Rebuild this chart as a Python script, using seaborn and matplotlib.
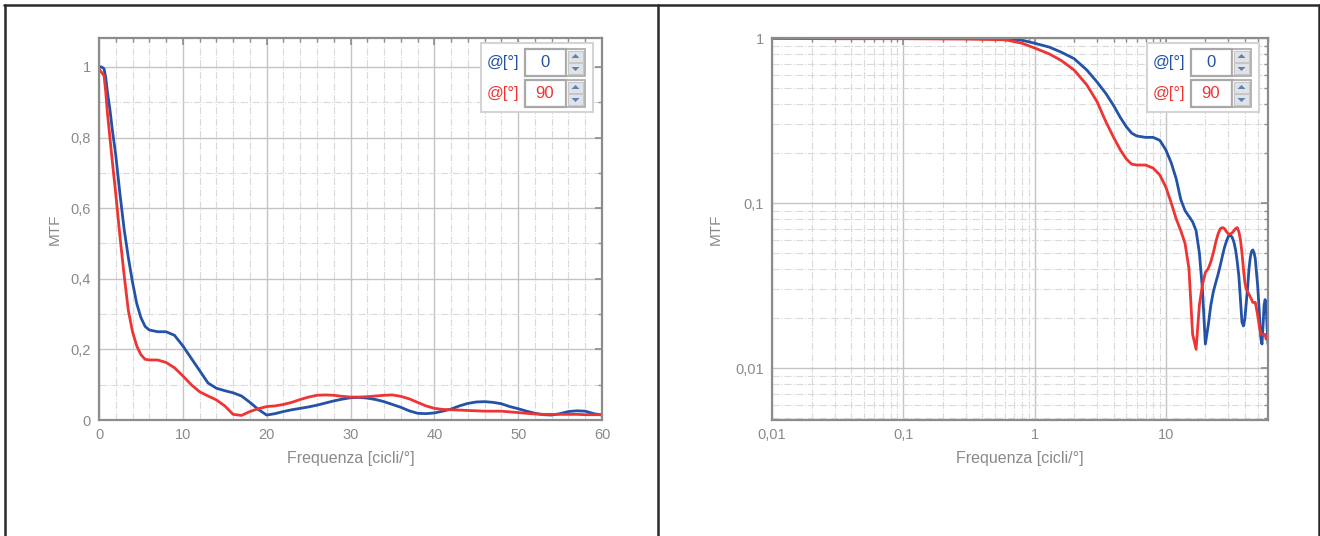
import numpy as np
import pandas as pd
import matplotlib
matplotlib.use("Agg")
import matplotlib.pyplot as plt
import seaborn as sns
from matplotlib.patches import Rectangle, Polygon
from matplotlib.lines import Line2D
from matplotlib.ticker import MultipleLocator, FuncFormatter, LogLocator, NullFormatter, FixedLocator

# ---------------- data ----------------
freq = [0.01, 0.03, 0.1, 0.3, 0.6, 0.8, 1.0, 1.3, 1.6, 2.0, 2.5, 3.0, 3.5, 4.0, 4.5,
        5.0, 5.5, 6.0, 7.0, 8.0, 9.0, 10, 11, 12, 13, 14, 15, 16, 17, 18, 19, 20,
        21, 22, 23, 24, 25, 26, 27, 28, 29, 30, 31, 32, 33, 34, 35, 36, 37, 38, 39, 40,
        41, 42, 43, 44, 45, 46, 47, 48, 49, 50, 51, 52, 53, 54, 55, 56, 57, 58, 59, 60]

mtf_0 = [1.0, 1.0, 1.0, 1.0, 0.995, 0.97, 0.93, 0.88, 0.82, 0.75, 0.64, 0.54, 0.46, 0.39, 0.33,
         0.29, 0.265, 0.255, 0.25, 0.25, 0.24, 0.21, 0.175, 0.14, 0.105, 0.09, 0.083, 0.077, 0.068, 0.05, 0.03, 0.014,
         0.018, 0.024, 0.029, 0.033, 0.037, 0.042, 0.048, 0.054, 0.059, 0.063, 0.064, 0.062, 0.058, 0.052, 0.044, 0.036, 0.026, 0.019, 0.018, 0.02,
         0.025, 0.031, 0.04, 0.047, 0.051, 0.052, 0.05, 0.046, 0.038, 0.032, 0.025, 0.019, 0.015, 0.014, 0.018, 0.024, 0.026, 0.025, 0.018, 0.014]

mtf_90 = [0.995, 0.99, 0.99, 0.985, 0.975, 0.93, 0.87, 0.80, 0.73, 0.64, 0.52, 0.41, 0.31, 0.25, 0.21,
          0.185, 0.172, 0.17, 0.17, 0.163, 0.148, 0.125, 0.10, 0.08, 0.068, 0.057, 0.04, 0.016, 0.013, 0.024, 0.032, 0.038,
          0.04, 0.044, 0.05, 0.058, 0.065, 0.07, 0.071, 0.07, 0.067, 0.065, 0.065, 0.066, 0.068, 0.07, 0.071, 0.067, 0.06, 0.05, 0.04, 0.033,
          0.03, 0.029, 0.028, 0.027, 0.026, 0.025, 0.025, 0.025, 0.023, 0.021, 0.019, 0.017, 0.016, 0.016, 0.016, 0.016, 0.016, 0.015, 0.015, 0.015]

angles = ["0", "90"]
angle_label = "@[°]"
x_label = "Frequenza [cicli/°]"
y_label = "MTF"
lin_xticks = [0, 10, 20, 30, 40, 50, 60]
lin_yticks = [0, 0.2, 0.4, 0.6, 0.8, 1]
log_xticks = [0.01, 0.1, 1, 10]
log_yticks = [0.01, 0.1, 1]

BLUE = "#2352a6"
RED = "#ef3434"
GRAY = "#8a8a8a"

df = pd.DataFrame({
    "freq": freq * 2,
    "mtf": mtf_0 + mtf_90,
    "angle": [angles[0]] * len(freq) + [angles[1]] * len(freq),
})

sns.set_style("white")
plt.rcParams["font.family"] = ["Liberation Sans", "DejaVu Sans"]

W, H = 1320, 536
fig = plt.figure(figsize=(W / 100, H / 100), dpi=100)

def fbox(x0, y0, x1, y1):
    # pixel box (top-left origin) -> figure fraction rect
    return [x0 / W, 1 - y1 / H, (x1 - x0) / W, (y1 - y0) / H]

ax1 = fig.add_axes(fbox(99, 38, 602, 420))
ax2 = fig.add_axes(fbox(772, 38, 1268, 420))

comma = FuncFormatter(lambda v, p: ("%g" % v).replace(".", ","))

for ax in (ax1, ax2):
    sns.lineplot(data=df, x="freq", y="mtf", hue="angle", palette=[BLUE, RED],
                 estimator=None, sort=False, linewidth=2.0, legend=False, ax=ax)
    ax.set_xlabel(x_label, color=GRAY, fontsize=11.5, labelpad=6)
    ax.set_ylabel(y_label, color=GRAY, fontsize=11)
    for s in ax.spines.values():
        s.set_color("#8c8c8c")
        s.set_linewidth(1.6)
        s.set_visible(True)
    ax.tick_params(which="both", direction="in", top=True, right=True,
                   colors="#8c8c8c", labelcolor=GRAY, labelsize=10.5)
    ax.tick_params(which="major", length=5, width=1.2, pad=6)
    ax.tick_params(which="minor", length=3, width=1.0)
    ax.grid(True, which="major", color="#c4c4c4", linestyle="-", linewidth=1.0)
    ax.grid(True, which="minor", color="#dadada", linestyle="-.", linewidth=0.8)
    ax.set_axisbelow(True)

# linear axes
ax1.set_xlim(0, 60)
ax1.set_ylim(0, 1.082)
ax1.xaxis.set_major_locator(FixedLocator(lin_xticks))
ax1.yaxis.set_major_locator(FixedLocator(lin_yticks))
ax1.xaxis.set_minor_locator(MultipleLocator(2))
ax1.yaxis.set_minor_locator(MultipleLocator(0.1))
ax1.xaxis.set_major_formatter(comma)
ax1.yaxis.set_major_formatter(comma)
ax1.yaxis.labelpad = 6

# log axes
ax2.set_xscale("log")
ax2.set_yscale("log")
ax2.set_xlim(0.01, 60)
ax2.set_ylim(0.00485, 1)
ax2.xaxis.set_major_locator(FixedLocator(log_xticks))
ax2.yaxis.set_major_locator(FixedLocator(log_yticks))
ax2.xaxis.set_minor_locator(LogLocator(base=10, subs=np.arange(2, 10)))
ax2.yaxis.set_minor_locator(LogLocator(base=10, subs=np.arange(2, 10)))
ax2.xaxis.set_minor_formatter(NullFormatter())
ax2.yaxis.set_minor_formatter(NullFormatter())
ax2.xaxis.set_major_formatter(comma)
ax2.yaxis.set_major_formatter(comma)
ax2.yaxis.labelpad = 9

# ---------------- angle widgets ----------------
def rect(x0, y0, x1, y1, **kw):
    fig.add_artist(Rectangle((x0 / W, 1 - y1 / H), (x1 - x0) / W, (y1 - y0) / H,
                             transform=fig.transFigure, **kw))

def widget(right):
    # right = axes right edge in px
    R = lambda off: right - off
    rect(R(121), 43, R(9), 112, facecolor="white", edgecolor="#d4d4d4", linewidth=1.5, zorder=10)
    rows = [(49, 76, angles[0], BLUE), (80, 107, angles[1], RED)]
    for (t, b, val, col) in rows:
        rect(R(77), t, R(36), b, facecolor="white", edgecolor="#a8a8a8", linewidth=1.6, zorder=11)
        rect(R(36), t, R(17), b, facecolor="#f2f2f2", edgecolor="#a8a8a8", linewidth=1.2, zorder=11)
        mid = (t + b) / 2
        rect(R(34), t + 2, R(19), mid - 0.5, facecolor="#dfe3e8", edgecolor="#c0c0c0", linewidth=0.6, zorder=12)
        rect(R(34), mid + 0.5, R(19), b - 2, facecolor="#dfe3e8", edgecolor="#c0c0c0", linewidth=0.6, zorder=12)
        cx = R(26.5)
        up = [(cx - 4, t + 9), (cx + 4, t + 9), (cx, t + 5)]
        dn = [(cx - 4, b - 9), (cx + 4, b - 9), (cx, b - 5)]
        for tri in (up, dn):
            fig.add_artist(Polygon([(x / W, 1 - y / H) for x, y in tri], closed=True,
                                   transform=fig.transFigure, facecolor="#5f7fb4",
                                   edgecolor="none", zorder=13))
        fig.text(R(99) / W, 1 - mid / H, angle_label, color=col, fontsize=12,
                 ha="center", va="center", zorder=14)
        fig.text(R(57) / W, 1 - mid / H, val, color=col, fontsize=12,
                 ha="center", va="center", zorder=14)

widget(602)
widget(1268)

# ---------------- page frame lines ----------------
def fline(xs, ys):
    fig.add_artist(Line2D([x / W for x in xs], [1 - y / H for y in ys],
                          transform=fig.transFigure, color="#2a2a2a", linewidth=1.8, zorder=20))

fline([4, 1319], [5, 5])
fline([5, 5], [5, 536])
fline([657.5, 657.5], [5, 536])
fline([1318.5, 1318.5], [5, 536])

fig.savefig("out.png", dpi=100)
